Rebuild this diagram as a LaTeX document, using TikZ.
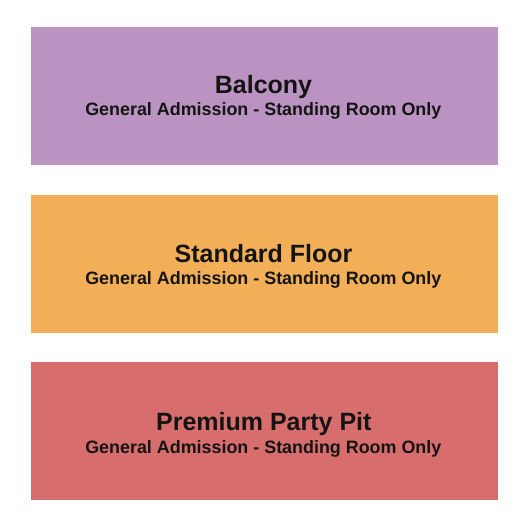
\documentclass[tikz,border=0pt]{standalone}
\usepackage{fontspec}
\setmainfont{Liberation Sans}
\usepackage{tikz}
\definecolor{BalconyPurple}{HTML}{BB93C3}
\definecolor{FloorOrange}{HTML}{F2AF58}
\definecolor{PitRed}{HTML}{D76D6D}
\definecolor{LabelInk}{HTML}{141414}

\begin{document}
\begin{tikzpicture}[x=1bp,y=-1bp,
  sectiontitle/.style={anchor=base, inner sep=0pt, text=LabelInk, font=\fontsize{25bp}{29bp}\selectfont\bfseries},
  sectionnote/.style={anchor=base, inner sep=0pt, text=LabelInk, font=\fontsize{17.9bp}{22bp}\selectfont\bfseries}]
\useasboundingbox (0,0) rectangle (525,525);
%
\fill[BalconyPurple] (31,27) rectangle (498,165);
\fill[FloorOrange] (31,195) rectangle (498,333);
\fill[PitRed] (31,362) rectangle (498,500);
%
\node[sectiontitle] (balcony) at (263.5,93.5) {Balcony};
\node[sectionnote] (balconynote) at (263.3,115.8) {General Admission - Standing Room Only};
%
\node[sectiontitle] (floor) at (263.5,262.7) {Standard Floor};
\node[sectionnote] (floornote) at (263.3,284.5) {General Admission - Standing Room Only};
%
\node[sectiontitle] (pit) at (263.8,430.5) {Premium Party Pit};
\node[sectionnote] (pitnote) at (263.3,453) {General Admission - Standing Room Only};
\end{tikzpicture}
\end{document}
